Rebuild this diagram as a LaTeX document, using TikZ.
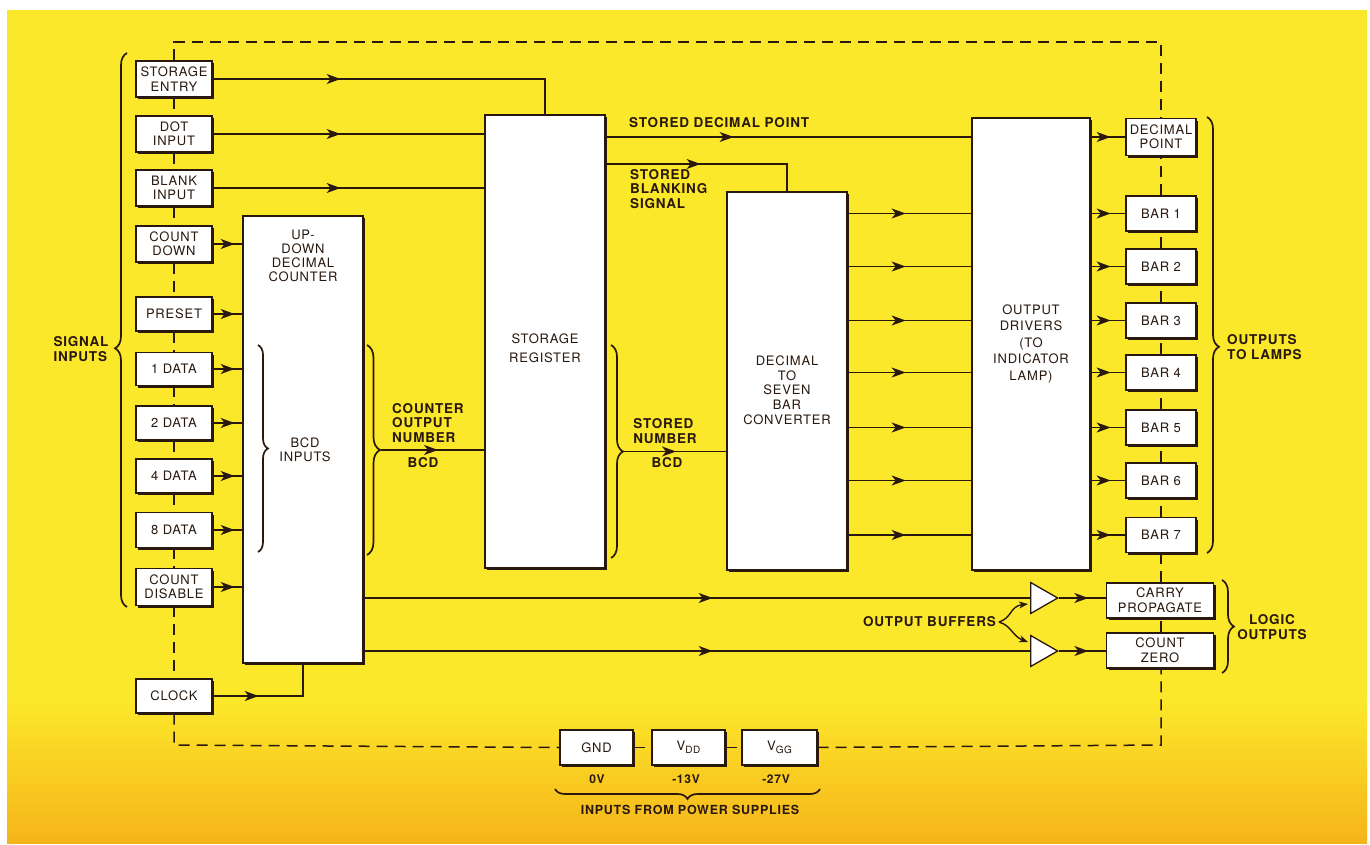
\documentclass[tikz,border=0pt]{standalone}
\usepackage{fontspec}
\setmainfont{TeX Gyre Heros}[LetterSpace=6]
\usetikzlibrary{shapes.geometric,decorations.pathreplacing,decorations.markings,shadows,arrows.meta,calc}
\definecolor{ink}{RGB}{40,24,14}
\definecolor{bgy}{RGB}{252,232,42}
\definecolor{bgo}{RGB}{246,180,26}
\begin{document}
\begin{tikzpicture}[x=1pt,y=-1pt,
  box/.style={draw=ink, line width=1.3pt, fill=white, inner sep=0pt, align=center, text=ink,
     font=\fontsize{13}{14.5}\selectfont,
     drop shadow={shadow xshift=2.4pt, shadow yshift=-2.4pt, fill=ink, opacity=1}},
  lbox/.style={box, minimum width=76pt},
  rbox/.style={box, minimum width=70pt, minimum height=35pt},
  block/.style={box, minimum width=120pt},
  wire/.style={draw=ink, line width=1.7pt},
  bus/.style={draw=ink, line width=1.5pt, dash pattern=on 11pt off 7pt},
  arrowat/.style={postaction={decorate,decoration={markings,mark=at position #1 with {\arrow{Stealth[length=14pt,width=10pt,inset=4pt]}}}}},
  brc/.style={draw=ink, line width=1.7pt, decorate, decoration={brace, amplitude=#1}},
  lab/.style={font=\bfseries\fontsize{13.5}{14.8}\selectfont, text=ink, inner sep=0pt},
  intext/.style={font=\fontsize{13}{14}\selectfont, text=ink, inner sep=0pt, align=center},
  buf/.style={isosceles triangle, isosceles triangle stretches, draw=ink, line width=1.3pt, fill=white,
     minimum width=31pt, minimum height=27pt, inner sep=0pt, anchor=lower side}
]
\useasboundingbox (0,0) rectangle (1370,845);
\fill[white] (0,0) rectangle (1370,845);
\fill[bgy] (7,10) rectangle (1367,843);
\shade[top color=bgy, bottom color=bgo] (7,700) rectangle (1367,843);

% corner coordinates of the dashed bus
\coordinate (tl) at (174,42);
\coordinate (tr) at (1161,42);
\coordinate (bl) at (174,745);
\coordinate (brr) at (1161,745);
\coordinate (sbk) at (0,164);

% left column boxes
\node[lbox, minimum height=36pt] (se) at (174,79) {STORAGE\\ENTRY};
\node[lbox, minimum height=36pt] (dot) at (174,134) {DOT\\INPUT};
\node[lbox, minimum height=36pt] (blank) at (174,188) {BLANK\\INPUT};
\node[lbox, minimum height=36pt] (cdown) at (174,244) {COUNT\\DOWN};
\node[lbox, minimum height=34pt] (preset) at (174,314) {PRESET};
\node[lbox, minimum height=33pt] (d1) at (174,369) {1 DATA};
\node[lbox, minimum height=34pt] (d2) at (174,423) {2 DATA};
\node[lbox, minimum height=34pt] (d4) at (174,476) {4 DATA};
\node[lbox, minimum height=35pt] (d8) at (174,530) {8 DATA};
\node[lbox, minimum height=37pt] (cdis) at (174,587) {COUNT\\DISABLE};
\node[lbox, minimum height=34pt] (clock) at (174,696) {CLOCK};

% main blocks
\node[block, minimum height=447pt] (counter) at (303,439.5) {};
\node[block, minimum height=453pt] (storage) at (545,341.5) {};
\node[block, minimum height=378pt] (conv) at (787,381) {};
\node[box, minimum width=118pt, minimum height=452pt] (drivers) at (1031,344) {};

\node[intext] (countertxt) at (303,256) {UP-\\DOWN\\DECIMAL\\COUNTER};
\node[intext] (bcdtxt) at (305,450) {BCD\\INPUTS};
\node[intext, font=\fontsize{13}{19}\selectfont] (storagetxt) at (545,348) {STORAGE\\REGISTER};
\node[intext, font=\fontsize{13}{14.7}\selectfont] (convtxt) at (787,390) {DECIMAL\\TO\\SEVEN\\BAR\\CONVERTER};
\node[intext, font=\fontsize{13}{16.5}\selectfont] (drivtxt) at (1031,344) {OUTPUT\\DRIVERS\\(TO\\INDICATOR\\LAMP)};

% right column boxes
\node[rbox, minimum height=37pt] (dp) at (1161,137) {DECIMAL\\POINT};
\node[rbox] (b1) at (1161,213.5) {BAR 1};
\node[rbox] (b2) at (1161,266.5) {BAR 2};
\node[rbox] (b3) at (1161,320.5) {BAR 3};
\node[rbox] (b4) at (1161,372.5) {BAR 4};
\node[rbox] (b5) at (1161,427.5) {BAR 5};
\node[rbox] (b6) at (1161,480.5) {BAR 6};
\node[rbox] (b7) at (1161,535) {BAR 7};
\node[box, minimum width=107pt, minimum height=35pt] (carry) at (1160,600.5) {CARRY\\PROPAGATE};
\node[box, minimum width=107pt, minimum height=35pt] (czero) at (1160,650.5) {COUNT\\ZERO};

% power boxes
\node[box, minimum width=73pt, minimum height=35pt] (gnd) at (596.5,747.5) {GND};
\node[box, minimum width=73pt, minimum height=35pt] (vdd) at (688.5,747.5) {V\raisebox{-2.5pt}{\fontsize{10}{10}\selectfont DD}};
\node[box, minimum width=75pt, minimum height=35pt] (vgg) at (779.5,747.5) {V\raisebox{-2.5pt}{\fontsize{10}{10}\selectfont GG}};

% buffers
\node[buf] (buf1) at (1030,598) {};
\node[buf] (buf2) at (1030,651) {};

% dashed bus
\draw[bus] (se.north) -- (tl) -- (tr) -- (dp.north);
\draw[bus] (se.south) -- (dot.north);
\draw[bus] (dot.south) -- (blank.north);
\draw[bus] (blank.south) -- (cdown.north);
\draw[bus] (cdown.south) -- (preset.north);
\draw[bus] (preset.south) -- (d1.north);
\draw[bus] (d1.south) -- (d2.north);
\draw[bus] (d2.south) -- (d4.north);
\draw[bus] (d4.south) -- (d8.north);
\draw[bus] (d8.south) -- (cdis.north);
\draw[bus] (cdis.south) -- (clock.north);
\draw[bus] (clock.south) -- (bl) -- (gnd.west);
\draw[bus] (gnd.east) -- (vdd.west);
\draw[bus] (vdd.east) -- (vgg.west);
\draw[bus] (vgg.east) -- (brr) -- (czero.south -| brr);
\draw[bus] (czero.north -| brr) -- (carry.south -| brr);
\draw[bus] (carry.north -| brr) -- (b7.south);
\draw[bus] (b7.north) -- (b6.south);
\draw[bus] (b6.north) -- (b5.south);
\draw[bus] (b5.north) -- (b4.south);
\draw[bus] (b4.north) -- (b3.south);
\draw[bus] (b3.north) -- (b2.south);
\draw[bus] (b2.north) -- (b1.south);
\draw[bus] (b1.north) -- (dp.south);

% inputs
\draw[wire, arrowat=128pt] (se.east) -| (storage.north);
\draw[wire, arrowat=128pt] (dot.east) -- (dot.east -| storage.west);
\draw[wire, arrowat=128pt] (blank.east) -- (blank.east -| storage.west);
\foreach \n in {cdown,preset,d1,d2,d4,d8,cdis}
  \draw[wire, arrowat=22pt] (\n.east) -- (\n.east -| counter.west);
\draw[wire, arrowat=46pt] (clock.east) -| (counter.south);

% braces
\draw[brc=12pt, decoration={aspect=0.467}] (127,607) -- (127,53);
\draw[brc=10pt] (258,345) -- (258,552);
\draw[brc=13pt] (367,345) -- (367,555);
\draw[brc=12pt] (611,345) -- (611,558);
\draw[brc=12pt, decoration={aspect=0.527}] (1207,117) -- (1207,553);
\draw[brc=12pt] (1222,580) -- (1222,673);
\draw[brc=10pt] (820,789) -- (555,789);

\coordinate (cot) at (381,450);
\coordinate (snt) at (623,451.5);
\draw[wire, arrowat=57pt] (cot) -- (cot -| storage.west);
\draw[wire, arrowat=53pt] (snt) -- (snt -| conv.west);

% storage outputs
\draw[wire, arrowat=128pt] (storage.east |- dp) -- (drivers.west |- dp);
\draw[wire, arrowat=95pt] (storage.east |- sbk) -| (conv.north);

% converter to drivers
\foreach \n in {b1,b2,b3,b4,b5,b6,b7}
  \draw[wire, arrowat=58pt] (conv.east |- \n) -- (drivers.west |- \n);
% drivers to lamps
\foreach \n in {dp,b1,b2,b3,b4,b5,b6,b7}
  \draw[wire, arrowat=20pt] (drivers.east |- \n) -- (\n.west);

% counter to buffers
\draw[wire, arrowat=349pt] (counter.east |- buf1.lower side) -- (buf1.lower side);
\draw[wire, arrowat=349pt] (counter.east |- buf2.lower side) -- (buf2.lower side);
\draw[wire, arrowat=29pt] (buf1.apex) -- (buf1.apex -| carry.west);
\draw[wire, arrowat=29pt] (buf2.apex) -- (buf2.apex -| czero.west);

% labels
\node[lab, align=left] (sigin) at (81,349) {SIGNAL\\INPUTS};
\node[lab, anchor=base west] (sdp) at (629,128) {STORED DECIMAL POINT};
\node[lab, align=left, anchor=west] (sbs) at (630,189) {STORED\\BLANKING\\SIGNAL};
\node[lab, align=left, anchor=west] (con) at (392,423) {COUNTER\\OUTPUT\\NUMBER};
\node[lab] (bcd1) at (423,463) {BCD};
\node[lab, align=left] (sn) at (665,431) {STORED\\NUMBER};
\node[lab] (bcd2) at (667,463) {BCD};
\node[lab, align=left, anchor=west] (otl) at (1227,347) {OUTPUTS\\TO LAMPS};
\node[lab, align=center] (lo) at (1272,627) {LOGIC\\OUTPUTS};
\node[lab, anchor=east] (ob) at (996,622) {OUTPUT BUFFERS};
\node[lab, font=\bfseries\fontsize{12}{13}\selectfont] (v0) at (597,779) {0V};
\node[lab, font=\bfseries\fontsize{12}{13}\selectfont] (v13) at (686,779) {-13V};
\node[lab, font=\bfseries\fontsize{12}{13}\selectfont] (v27) at (776,779) {-27V};
\node[lab, font=\bfseries\fontsize{12.5}{13}\selectfont] (ips) at (690,810) {INPUTS FROM POWER SUPPLIES};

% curly arrows from OUTPUT BUFFERS
\draw[draw=ink, line width=1.4pt, -{Stealth[length=9pt,width=7pt]}] ($(ob.east)+(3,0)$) .. controls (1012,618) and (1010,606) .. ($(buf1.lower side)+(-2,6)$);
\draw[draw=ink, line width=1.4pt, -{Stealth[length=9pt,width=7pt]}] ($(ob.east)+(3,0)$) .. controls (1012,626) and (1012,636) .. ($(buf2.lower side)+(-2,-9)$);
\end{tikzpicture}
\end{document}
